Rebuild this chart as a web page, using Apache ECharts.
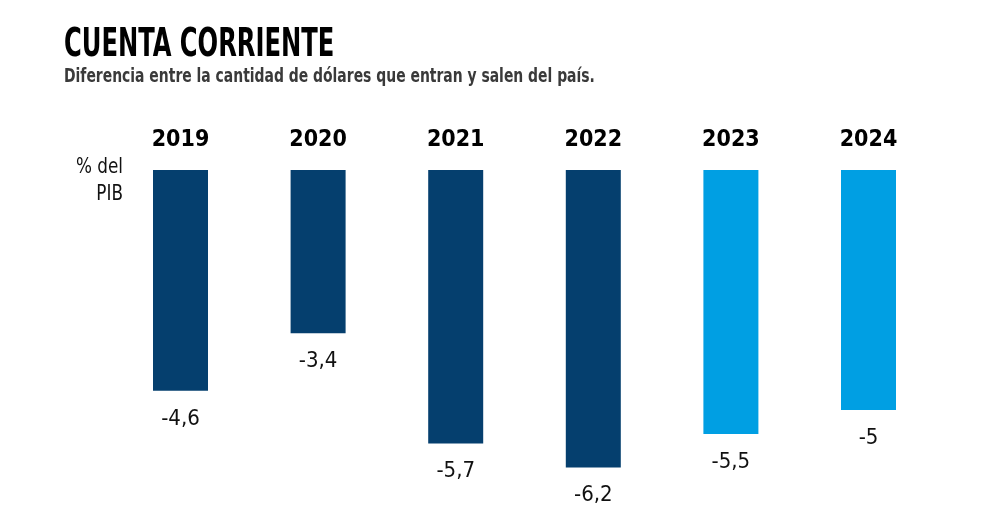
<!DOCTYPE html>
<html><head><meta charset="utf-8">
<script src="https://cdn.jsdelivr.net/npm/echarts@6/dist/echarts.min.js"></script>
<style>html,body{margin:0;padding:0;background:#fff}#c{width:1000px;height:530px}</style>
</head><body><div id="c"></div>
<script>
const years = ['2019','2020','2021','2022','2023','2024'];
const values = [-4.6,-3.4,-5.7,-6.2,-5.5,-5];
const barColors = ['#053F6E','#053F6E','#053F6E','#053F6E','#009FE3','#009FE3'];
const titleText = 'CUENTA CORRIENTE';
const subtitleText = 'Diferencia entre la cantidad de dólares que entran y salen del país.';
const unitText = '% del\nPIB';
const FONT = '"DejaVu Sans Condensed","Liberation Sans",sans-serif';

const chart = echarts.init(document.getElementById('c'));
chart.setOption({
  animation:false,
  backgroundColor:'#fff',
  graphic:[
    {type:'text',x:64,y:26,scaleX:0.69,scaleY:1,originX:0,originY:0,
      style:{text:titleText,font:'bold 39px '+FONT,fill:'#000',textVerticalAlign:'top'}},
    {type:'text',x:64,y:68,scaleX:0.815,originX:0,originY:0,
      style:{text:subtitleText,font:'bold 19px '+FONT,fill:'#3a3a3a',textVerticalAlign:'top'}},
    {type:'text',x:123,y:154,scaleX:0.85,originX:0,originY:0,
      style:{text:unitText,font:'22px '+FONT,fill:'#111',textAlign:'right',textVerticalAlign:'top',lineHeight:27}}
  ],
  grid:{left:111.7,right:62.7,top:170,bottom:24},
  xAxis:{type:'category',data:years,position:'top',axisLine:{show:false},axisTick:{show:false},
    axisLabel:{margin:18,fontFamily:FONT,fontWeight:'bold',fontSize:23,color:'#000'}},
  yAxis:{type:'value',min:-7,max:0,show:false,splitLine:{show:false}},
  series:[{type:'bar',barWidth:55,
    data:values.map((v,i)=>({value:v,itemStyle:{color:barColors[i]}})),
    label:{show:true,position:'bottom',distance:17,fontFamily:FONT,fontSize:22,color:'#111',
      formatter:p=>String(p.value).replace('.',',')}}]
});
</script></body></html>
